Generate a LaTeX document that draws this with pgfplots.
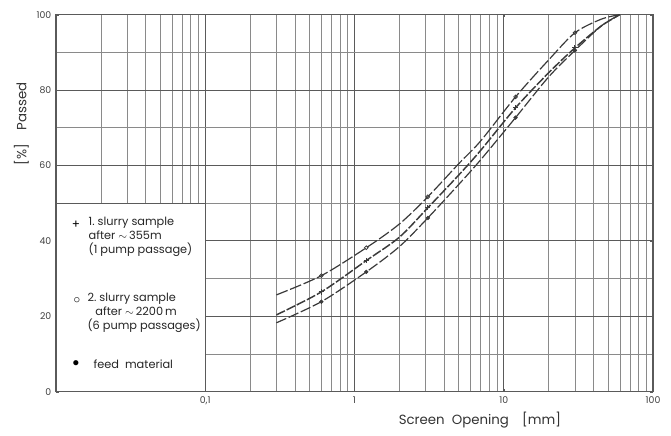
\documentclass[border=0pt]{standalone}
\usepackage{pgfplots}
\pgfplotsset{compat=1.18}
\usepackage{fontspec}
\setmainfont{Poppins}
\definecolor{gridc}{HTML}{8A8A8A}
\definecolor{gridm}{HTML}{5A5A5A}
\definecolor{curve}{HTML}{3A3A3A}
\begin{document}
\begin{tikzpicture}
\begin{axis}[
  scale only axis,
  width=448pt, height=283pt,
  xmode=log, log basis x=10,
  xmin=0.01, xmax=100, ymin=0, ymax=100,
  xtick={0.01,0.1,1,10,100},
  xticklabels={,{0,1},1,10,100},
  minor xtick={0.02,0.03,0.04,0.05,0.06,0.07,0.08,0.09,
               0.2,0.3,0.4,0.5,0.6,0.7,0.8,0.9,
               2,3,4,5,6,7,8,9,
               20,30,40,50,60,70,80,90},
  ytick={0,20,40,60,80,100},
  minor ytick={10,30,50,70,90},
  grid=both,
  major grid style={gridm, line width=0.7pt},
  minor grid style={gridc, line width=0.5pt},
  axis line style={gridm, line width=0.9pt},
  tick style={gridm},
  major tick length=2pt, minor tick length=0pt,
  tick label style={font=\fontsize{7}{8}\selectfont, text=black!75},
  /pgf/number format/assume math mode=true,
  clip=false,
]
\coordinate (sw) at (rel axis cs:0,0);
\coordinate (ne) at (rel axis cs:1,1);
% legend box
\fill[white] (axis cs:0.01,0) rectangle (axis cs:0.1,50);
\draw[gridm, line width=0.7pt] (axis cs:0.01,50) -- (axis cs:0.1,50) -- (axis cs:0.1,0);
\draw[gridm, line width=0.9pt] (axis cs:0.01,0) -- (axis cs:0.01,50);
\draw[gridm, line width=0.9pt] (axis cs:0.01,0) -- (axis cs:0.1,0);

% 2. slurry sample (circles)
\addplot[curve, line width=0.9pt, dash pattern=on 9pt off 2pt, smooth, tension=0.5] coordinates {
 (0.3,25.7) (0.6,30.8) (1.2,38.2) (2,44.5) (3.1,51.7) (5,60.5) (7,66.5) (12,78.2) (20,88) (30,95.2) (45,98.8) (60,100)};
\addplot[curve, only marks, mark=o, mark size=1.4pt, mark options={line width=0.6pt, fill=white}] coordinates {
 (0.6,30.8) (1.2,38.2) (3.1,51.7) (12,78.2) (30,95.2)};
% 1. slurry sample (plus)
\addplot[curve, line width=1.1pt, dash pattern=on 7pt off 1.5pt, smooth, tension=0.5] coordinates {
 (0.3,20.4) (0.6,26.5) (1.2,34.8) (2,41) (3.1,48.8) (5,57.5) (7,64) (12,75.3) (20,84.6) (30,91.2) (45,97) (60,100)};
\addplot[curve, only marks, mark=+, mark size=2pt, mark options={line width=0.8pt}] coordinates {
 (0.6,26.5) (1.2,34.8) (3.1,48.8) (12,75.3) (30,91.2)};
% feed material (dots)
\addplot[curve, line width=0.9pt, dash pattern=on 8pt off 2pt, smooth, tension=0.5] coordinates {
 (0.3,18.3) (0.6,23.9) (1.2,31.8) (2,38.5) (3.1,46.1) (5,55) (7,61.5) (12,72.7) (20,83.5) (30,90.5) (45,97) (60,100)};
\addplot[curve, only marks, mark=*, mark size=1.4pt] coordinates {
 (0.6,23.9) (1.2,31.8) (3.1,46.1) (12,72.7) (30,90.5)};

% legend text
\node[anchor=center, font=\fontsize{9}{10}\selectfont] at (axis cs:0.0136,44.3) {+};
\node[anchor=north west, align=left, font=\fontsize{8.5}{10.5}\selectfont, text=black!85, inner sep=0pt]
  at (axis cs:0.0165,46.5) {1.\ slurry sample\\after $\sim$\,355m\\(1 pump passage)};
\node[anchor=center] at (axis cs:0.0138,24.1) {$\circ$};
\node[anchor=north west, align=left, font=\fontsize{8.5}{10.5}\selectfont, text=black!85, inner sep=0pt]
  at (axis cs:0.0162,26.3) {2.\ slurry sample\\\hspace*{0.7em}after $\sim$\,2200\,m\\(6 pump passages)};
\node[anchor=center] at (axis cs:0.0136,7.4) {$\bullet$};
\node[anchor=west, font=\fontsize{8.5}{10.5}\selectfont, text=black!85, inner sep=0pt]
  at (axis cs:0.0178,7.4) {feed\ \ material};

% axis labels
\node[rotate=90, font=\fontsize{10}{12}\selectfont, text=black!80] at ([xshift=-26pt]rel axis cs:0,0.71) {[\%]\quad Passed};
\node[font=\fontsize{10}{12}\selectfont, text=black!80] at ([yshift=-21pt]rel axis cs:0.71,0) {Screen\ \ Opening\quad[mm]};
\end{axis}
\pgfresetboundingbox
\path ([shift={(-42pt,-32.5pt)}]sw) rectangle ([shift={(13.5pt,11pt)}]ne);
\end{tikzpicture}
\end{document}
